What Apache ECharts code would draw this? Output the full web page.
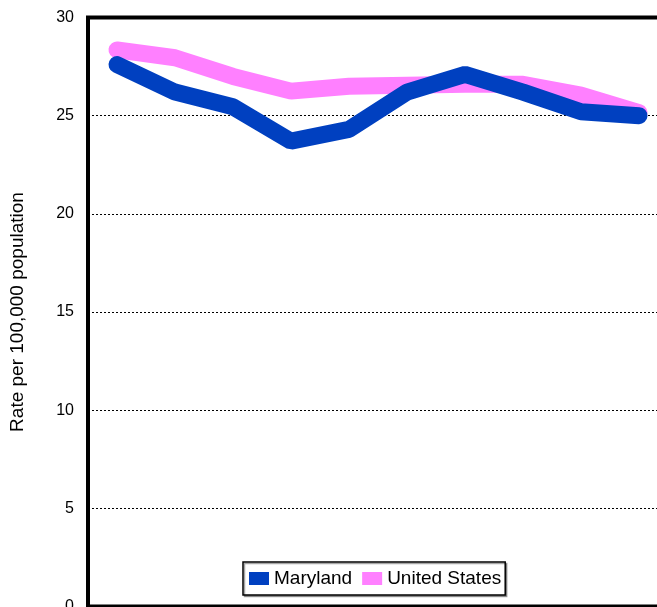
<!DOCTYPE html>
<html>
<head>
<meta charset="utf-8">
<script src="https://cdn.jsdelivr.net/npm/echarts@6/dist/echarts.min.js"></script>
<style>
html,body{margin:0;padding:0;background:#fff;}
#chart{width:657px;height:607px;}
</style>
</head>
<body>
<div id="chart"></div>
<script>
const categories = ['1', '2', '3', '4', '5', '6', '7', '8', '9', '10'];
const marylandValues = [27.6, 26.2, 25.45, 23.7, 24.3, 26.2, 27.1, 26.2, 25.2, 25.0];
const usValues = [28.35, 27.95, 27.0, 26.25, 26.5, 26.55, 26.6, 26.6, 26.05, 25.15];
const yTicks = { min: 0, max: 30, interval: 5 };
const yAxisTitle = 'Rate per 100,000 population';

const FONT = 'Liberation Sans, Arial, sans-serif';
const chart = echarts.init(document.getElementById('chart'), null, { renderer: 'canvas' });
chart.setOption({
  animation: false,
  backgroundColor: '#fff',
  grid: {
    left: 88, right: -11, top: 17.5, bottom: 0.5,
    outerBoundsMode: 'none',
    containLabel: false,
    show: true, borderColor: '#000', borderWidth: 4, backgroundColor: 'transparent'
  },
  legend: {
    left: 243, top: 562,
    orient: 'horizontal',
    icon: 'rect',
    itemWidth: 20, itemHeight: 13, itemGap: 10,
    padding: [7, 4, 7, 6],
    borderColor: '#000', borderWidth: 1.5,
    backgroundColor: '#fff',
    shadowColor: 'rgba(0,0,0,0.35)', shadowBlur: 0, shadowOffsetX: 1.5, shadowOffsetY: 1.5,
    textStyle: { color: '#000', fontSize: 19, fontFamily: FONT },
    data: ['Maryland', 'United States']
  },
  xAxis: {
    type: 'category',
    data: categories,
    boundaryGap: true,
    axisLine: { show: false },
    axisTick: { show: false },
    axisLabel: { show: false },
    splitLine: { show: false }
  },
  yAxis: {
    type: 'value',
    min: yTicks.min, max: yTicks.max, interval: yTicks.interval,
    name: yAxisTitle,
    nameLocation: 'middle',
    nameGap: 61,
    nameRotate: 90,
    nameTextStyle: { color: '#000', fontSize: 19, fontFamily: FONT },
    axisLine: { show: false },
    axisTick: { show: false },
    axisLabel: { color: '#000', fontSize: 16, margin: 14, fontFamily: FONT },
    splitLine: { show: true, lineStyle: { color: '#000', type: [2, 2], width: 1 } }
  },
  series: [
    {
      name: 'United States',
      type: 'line',
      data: usValues,
      symbol: 'none',
      color: '#ff80ff',
      lineStyle: { color: '#ff80ff', width: 17, cap: 'round', join: 'bevel' },
      z: 2
    },
    {
      name: 'Maryland',
      type: 'line',
      data: marylandValues,
      symbol: 'none',
      color: '#0040c0',
      lineStyle: { color: '#0040c0', width: 17, cap: 'round', join: 'bevel' },
      z: 3
    }
  ]
});
</script>
</body>
</html>
